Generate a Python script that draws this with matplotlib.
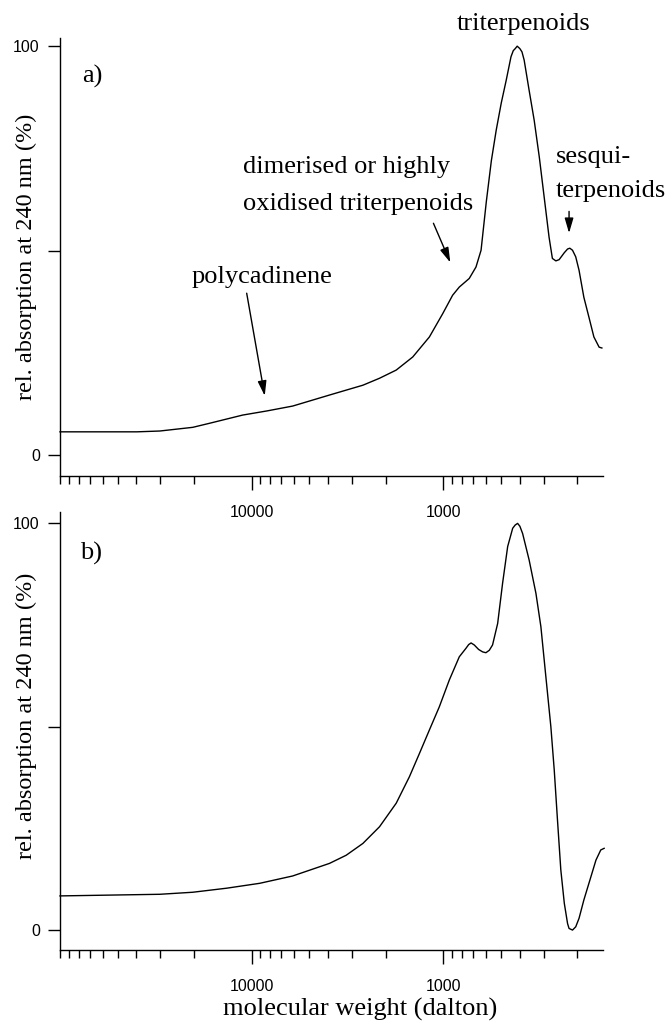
import matplotlib
matplotlib.use("Agg")
import matplotlib.pyplot as plt
from matplotlib.ticker import FixedLocator, NullFormatter, FuncFormatter

# GPC traces: molecular weight (dalton) vs relative absorption at 240 nm (%)
mw_a = [100000, 39700, 30150, 20300, 16560, 11140, 8350, 6115, 3926, 3214,
        2630, 2154, 1762, 1445, 1183, 1008, 895, 826, 733, 676, 636, 597,
        562, 530, 499, 470, 444, 432, 422, 412, 399, 389, 379, 357, 336, 316,
        298, 281, 270, 259, 249, 234, 225, 219, 212, 204, 196, 185, 174, 164,
        154, 149]
abs_a = [5.7, 5.7, 5.9, 6.8, 7.8, 9.8, 10.8, 12.0, 14.7, 15.9,
         17.1, 18.8, 20.8, 24.0, 28.9, 34.6, 39.1, 41.1, 43.2, 46.0, 50.1, 62.0,
         72.0, 79.5, 86.1, 91.7, 97.4, 98.9, 99.4, 100.0, 99.4, 98.6, 96.6, 89.2, 81.9, 72.9,
         63.1, 53.3, 48.1, 47.5, 47.8, 49.5, 50.4, 50.6, 50.1, 48.5, 45.2, 38.6, 33.7, 28.9,
         26.4, 26.2]

mw_b = [100000, 54900, 30150, 20300, 13490, 9080, 6115, 3926, 3214, 2630,
        2154, 1762, 1504, 1334, 1183, 1050, 931, 826, 762, 738, 717, 690,
        655, 624, 600, 576, 554, 521, 491, 462, 435, 422, 410, 399, 386, 357,
        329, 310, 292, 275, 264, 254, 244, 234, 225, 221, 212, 204, 196, 185,
        170, 160, 151, 145]
abs_b = [8.4, 8.6, 8.8, 9.3, 10.3, 11.5, 13.3, 16.4, 18.4, 21.3,
         25.4, 31.2, 37.7, 43.4, 49.2, 54.9, 61.5, 67.2, 69.3, 70.2, 70.6, 70.1,
         69.0, 68.4, 68.2, 68.8, 70.1, 75.4, 85.3, 94.3, 98.8, 99.6, 100.0, 99.3, 97.5, 91.0,
         82.8, 74.6, 62.3, 50.0, 39.3, 27.1, 14.8, 6.6, 1.6, 0.4, 0.0, 0.8, 2.9, 7.4,
         13.1, 17.2, 19.7, 20.1]

major_mw = [10000, 1000]
minor_mw = [100000] + [k * 10000 for k in range(2, 10)] + \
           [k * 1000 for k in range(2, 10)] + [k * 100 for k in range(2, 10)]
y_ticks = [0, 50, 100]
y_tick_labels = ["0", "", "100"]

serif = ["Liberation Serif", "DejaVu Serif"]
sans = ["Liberation Sans", "DejaVu Sans"]
TXT = 19

fig = plt.figure(figsize=(6.68, 10.25), dpi=100)
W, H = 668, 1025
ax_a = fig.add_axes([60 / W, 1 - 476 / H, 543 / W, 438 / H])
ax_b = fig.add_axes([60 / W, 1 - 950 / H, 543 / W, 438 / H])


def style_axes(ax, ylim):
    ax.patch.set_visible(False)
    ax.set_xscale("log")
    ax.set_xlim(100000, 147)
    ax.set_ylim(*ylim)
    for side in ("top", "right"):
        ax.spines[side].set_visible(False)
    for side in ("left", "bottom"):
        ax.spines[side].set_linewidth(1.0)
    ax.xaxis.set_major_locator(FixedLocator(major_mw))
    ax.xaxis.set_minor_locator(FixedLocator(minor_mw))
    ax.xaxis.set_major_formatter(FuncFormatter(lambda v, p: f"{v:.0f}"))
    ax.xaxis.set_minor_formatter(NullFormatter())
    ax.set_yticks(y_ticks)
    ax.set_yticklabels(y_tick_labels)
    ax.tick_params(axis="x", which="major", direction="out", length=10, width=1, pad=11)
    ax.tick_params(axis="x", which="minor", direction="out", length=5.5, width=1)
    ax.tick_params(axis="y", direction="out", length=8.5, width=1, pad=6)
    for lab in ax.get_xticklabels() + ax.get_yticklabels():
        lab.set_family(sans)
        lab.set_fontsize(11.5)


style_axes(ax_a, (-5.1, 102))
style_axes(ax_b, (-4.9, 102.8))

ax_a.plot(mw_a, abs_a, color="black", lw=1.0, clip_on=False)
ax_b.plot(mw_b, abs_b, color="black", lw=1.0, clip_on=False)

# panel letters
ax_a.text(76800, 91.0, "a)", family=serif, fontsize=TXT, va="baseline")
ax_b.text(78700, 91.2, "b)", family=serif, fontsize=TXT, va="baseline")

# labels and arrows on panel a
arrow = dict(arrowstyle="-|>,head_length=0.75,head_width=0.22", color="black",
             lw=1.0, mutation_scale=12, shrinkA=0, shrinkB=0)

ax_a.text(383, 103.9, "triterpenoids", family=serif, fontsize=TXT,
          ha="center", va="baseline", clip_on=False)

ax_a.text(11140, 68.9, "dimerised or highly", family=serif, fontsize=TXT, va="baseline")
ax_a.text(11140, 60.0, "oxidised triterpenoids", family=serif, fontsize=TXT, va="baseline")
ax_a.annotate("", xy=(920, 47.1), xytext=(1127, 56.7), arrowprops=arrow)

ax_a.text(20600, 42.0, "polycadinene", family=serif, fontsize=TXT, va="baseline")
ax_a.annotate("", xy=(8550, 14.5), xytext=(10620, 39.6), arrowprops=arrow)

ax_a.text(258, 71.4, "sesqui-", family=serif, fontsize=TXT, va="baseline", clip_on=False)
ax_a.text(258, 63.1, "terpenoids", family=serif, fontsize=TXT, va="baseline", clip_on=False)
ax_a.annotate("", xy=(221, 54.3), xytext=(221, 59.6), arrowprops=arrow)

# axis titles
ylab = "rel. absorption at 240 nm (%)"
fig.text(26 / W, 1 - 257 / H, ylab, family=serif, fontsize=17.5,
         rotation=90, ha="center", va="center")
fig.text(26 / W, 1 - 716 / H, ylab, family=serif, fontsize=17.5,
         rotation=90, ha="center", va="center")
fig.text(360 / W, 1 - 1016 / H, "molecular weight (dalton)", family=serif,
         fontsize=TXT, ha="center", va="baseline")

fig.savefig("out.png", dpi=100)
